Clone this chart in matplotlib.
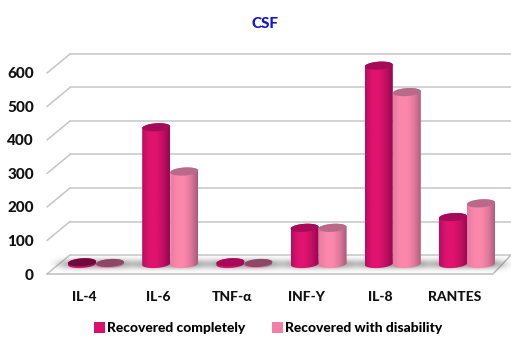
#!/usr/bin/env python3

"""Pseudo-3D cylinder chart of CSF cytokine levels by recovery outcome."""

import matplotlib

matplotlib.use("Agg")

import matplotlib.pyplot as plt
import numpy as np
from matplotlib.colors import LinearSegmentedColormap
from matplotlib.patches import Patch, Polygon

categories = ["IL-4", "IL-6", "TNF-α", "INF-Y", "IL-8", "RANTES"]
recovered_completely = [5, 408, 5, 108, 592, 140]
recovered_disability = [3, 276, 3, 108, 513, 181]
y_ticks = [0, 100, 200, 300, 400, 500, 600]

plt.rcParams["font.family"] = ["Lato", "DejaVu Sans"]
plt.rcParams["font.weight"] = "black"

W, H = 511, 338
PX_PER_CAT = 74.2
PX_PER_VAL = 0.335
X0_PX, Y0_PX = 96.0, 274.0


def px_x(p):
    return (p - X0_PX) / PX_PER_CAT


def px_dy(p):
    return p / PX_PER_VAL


def px_y(p):
    return (Y0_PX - p) / PX_PER_VAL


DEPTH_X = px_x(70) - px_x(47)
DEPTH_Y = px_dy(19)
BAR_BASE = px_dy(10)  # bars stand mid-way across the floor
BAR_W = 28 / PX_PER_CAT
ELL_H = px_dy(4.0)
ELL_TILT = px_dy(0.9)

cmap_dark = LinearSegmentedColormap.from_list("dark", ["#b50e60", "#e0136f", "#e0136f", "#c40f63", "#94084f"])
cmap_light = LinearSegmentedColormap.from_list("light", ["#e87aa0", "#fb88ac", "#fb88ac", "#e0789c", "#a85a78"])


def ellipse_pts(cx, cy, t):
    hw = BAR_W / 2
    return np.column_stack([cx + hw * np.cos(t), cy + ELL_H * np.sin(t) + ELL_TILT * np.cos(t)])


def draw_cylinder(ax, cx, value, cmap, top_color):
    base = BAR_BASE
    top = base + value
    bottom_arc = ellipse_pts(cx, base, np.linspace(np.pi, 2 * np.pi, 30))
    top_arc = ellipse_pts(cx, top, np.linspace(0, np.pi, 30))
    body = Polygon(np.vstack([bottom_arc, top_arc]), closed=True, transform=ax.transData, facecolor="none", edgecolor="none")
    ax.add_patch(body)
    grad = np.linspace(0, 1, 64).reshape(1, -1)
    im = ax.imshow(grad, cmap=cmap, extent=[cx - BAR_W / 2, cx + BAR_W / 2, base - 2 * ELL_H, top + 2 * ELL_H],
                   aspect="auto", origin="lower", zorder=4, interpolation="bilinear")
    im.set_clip_path(body)
    cap = ellipse_pts(cx, top, np.linspace(0, 2 * np.pi, 60))
    ax.add_patch(Polygon(cap, closed=True, facecolor=top_color, edgecolor="none", zorder=5))


def draw_shadow(ax, cx):
    # soft grey pool on the floor under each pair of cylinders
    half_w, half_h = 0.62, px_dy(9)
    xs = np.linspace(-1, 1, 120)
    ys = np.linspace(-1, 1, 60)
    xx, yy = np.meshgrid(xs, ys)
    alpha = np.exp(-(np.abs(xx) ** 5 * 3.0 + np.abs(yy) ** 2 * 3.5)) * 0.6
    rgba = np.zeros((60, 120, 4))
    rgba[..., :3] = 0.35
    rgba[..., 3] = alpha
    ax.imshow(rgba, extent=[cx - half_w, cx + half_w, BAR_BASE - half_h, BAR_BASE + half_h],
              aspect="auto", origin="lower", zorder=2, interpolation="bilinear")


fig = plt.figure(figsize=(W / 100, H / 100), dpi=100)
ax = fig.add_axes([0, 0, 1, 1])
ax.set_axis_off()

grid_kw = dict(color="#c6c6c6", lw=1.1, solid_capstyle="round", zorder=1)
x_front, x_back = px_x(47), px_x(70)
x_right = px_x(511)
for v in y_ticks:
    ax.plot([x_front, x_back], [v, v + DEPTH_Y], **grid_kw)
    ax.plot([x_back, x_right], [v + DEPTH_Y, v + DEPTH_Y], **grid_kw)
    ax.text(px_x(34), v - px_dy(1.5), str(v), ha="right", va="center", fontsize=11, color="#111111")

# floor outline
ax.plot([x_front, px_x(493), x_right], [0, 0, DEPTH_Y], color="#bdbdbd", lw=1.1, zorder=1)

for i, name in enumerate(categories):
    draw_shadow(ax, i)
    dark_cap = "#6e0a3e" if i == 0 else "#a80a5a"
    light_cap = "#8a4a66" if recovered_disability[i] < 10 else "#b96a8a"
    draw_cylinder(ax, i - BAR_W / 2, recovered_completely[i], cmap_dark, dark_cap)
    draw_cylinder(ax, i + BAR_W / 2, recovered_disability[i], cmap_light, light_cap)
    ax.text(i - 12 / PX_PER_CAT, px_y(297), name, ha="center", va="center", fontsize=10, color="#111111")

ax.set_xlim(px_x(0), px_x(W))
ax.set_ylim(px_y(H), px_y(0))

ax.text(px_x(265), px_y(24.5), "CSF", ha="center", va="center", fontsize=11, color="#1414d8")

handles = [Patch(facecolor="#d8126c", label="Recovered completely"),
           Patch(facecolor="#f27fa6", label="Recovered with disability")]
ax.legend(handles=handles, loc="center", bbox_to_anchor=(268 / W, 1 - 328 / H), ncols=2, frameon=False,
          fontsize=10, handlelength=0.8, handleheight=0.9, handletextpad=0.15, columnspacing=1.9, borderpad=0)

fig.savefig("out.png", dpi=100)
